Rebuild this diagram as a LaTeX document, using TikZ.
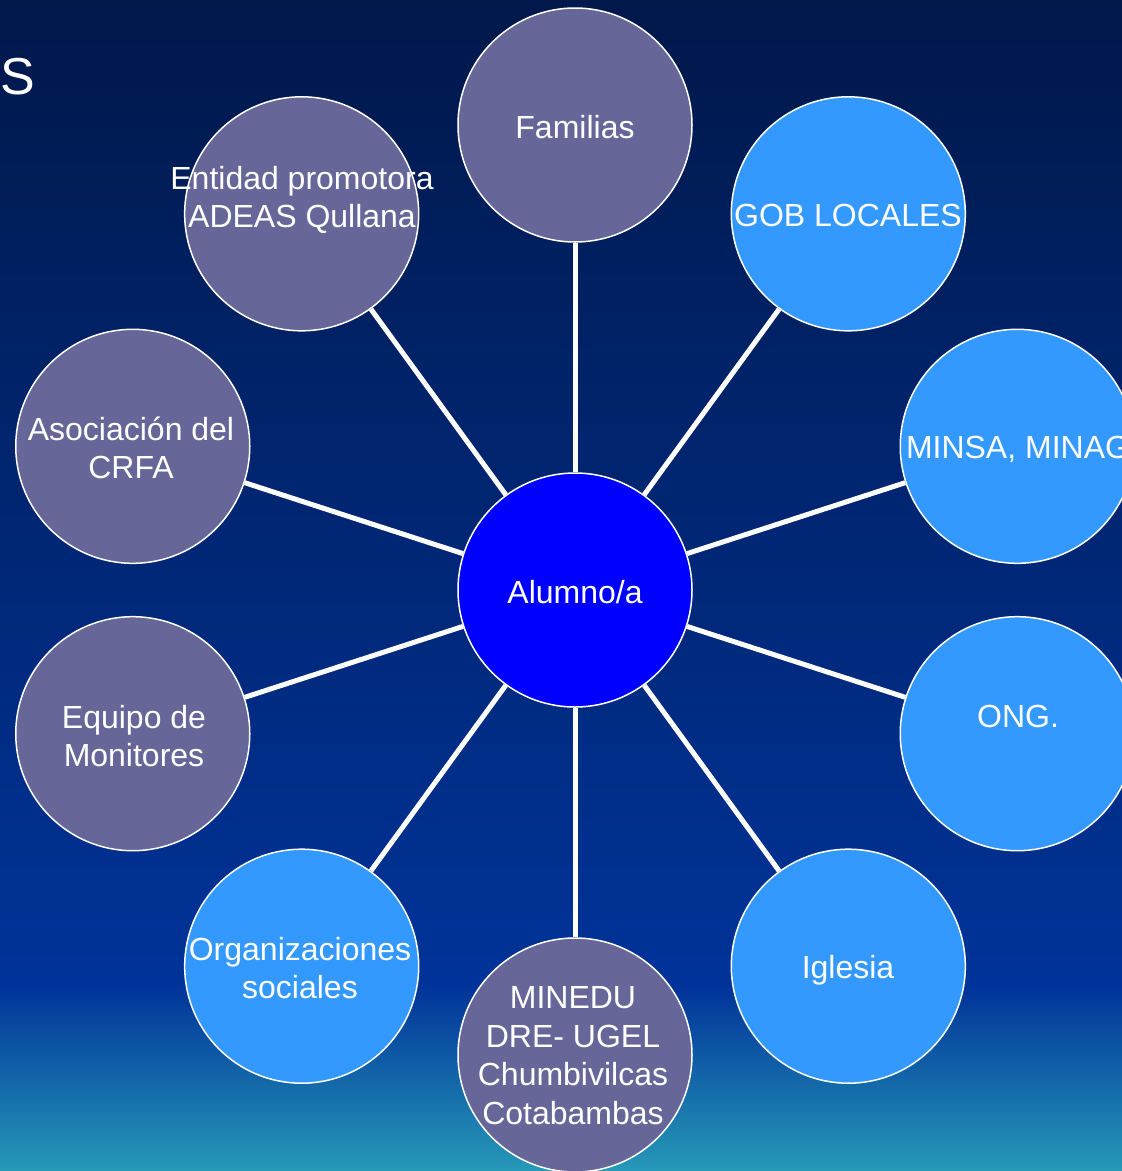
\documentclass[tikz,border=0pt]{standalone}
\usepackage{fontspec}
\setmainfont{Liberation Sans}
\usetikzlibrary{calc}
\definecolor{purp}{HTML}{666699}
\definecolor{lblue}{HTML}{3399FF}
\definecolor{cblue}{HTML}{0000FF}
\definecolor{bgtop}{HTML}{00184A}
\definecolor{bgmid}{HTML}{003399}
\definecolor{bgbot}{HTML}{2699B8}
\pgfdeclareverticalshading{bgshade}{100bp}{color(0bp)=(bgbot); color(25bp)=(bgbot); color(32.9bp)=(bgmid); color(75bp)=(bgtop); color(100bp)=(bgtop)}
\begin{document}
\begin{tikzpicture}[x=1pt,y=1pt,
  bub/.style={circle,draw=white,line width=1.5pt,minimum size=234pt,inner sep=0pt},
  purpbub/.style={bub,fill=purp},
  bluebub/.style={bub,fill=lblue},
  lbl/.style={text=white,font=\fontsize{32}{38.5}\selectfont,align=center,inner sep=0pt},
  link/.style={draw=white,line width=5pt}]
\shade[shading=bgshade] (0,0) rectangle (1122,-1171);
\useasboundingbox (0,0) rectangle (1122,-1171);
\node[anchor=base west,inner sep=0pt,text=white,font=\fontsize{52}{60}\selectfont] (title) at (0,-94) {S};
\coordinate (c) at (575,-590);
\node[bub,fill=cblue] (alumno) at (c) {};
\node[purpbub] (fam) at ($(c)+(90:465pt)$) {};
\node[bluebub] (gob) at ($(c)+(54:465pt)$) {};
\node[bluebub] (minsa) at ($(c)+(18:465pt)$) {};
\node[bluebub] (ong) at ($(c)+(-18:465pt)$) {};
\node[bluebub] (igl) at ($(c)+(-54:465pt)$) {};
\node[purpbub] (minedu) at ($(c)+(-90:465pt)$) {};
\node[bluebub] (org) at ($(c)+(-126:465pt)$) {};
\node[purpbub] (equipo) at ($(c)+(-162:465pt)$) {};
\node[purpbub] (asoc) at ($(c)+(162:465pt)$) {};
\node[purpbub] (ent) at ($(c)+(126:465pt)$) {};
\foreach \n in {fam,gob,minsa,ong,igl,minedu,org,equipo,asoc,ent}
  \draw[link] (alumno) -- (\n);
\node[lbl] (tfam) at (575,-131) {\strut Familias};
\node[lbl] (tent) at (302,-201) {\strut Entidad promotora\\\strut ADEAS Qullana};
\node[lbl] (tgob) at (848,-219) {\strut GOB LOCALES};
\node[lbl] (tminsa) at (1018,-451) {\strut MINSA, MINAG};
\node[lbl] (tasoc) at (131,-452) {\strut Asociación del\\\strut CRFA};
\node[lbl] (talumno) at (575,-596) {\strut Alumno/a};
\node[lbl] (tequipo) at (134,-740) {\strut Equipo de\\\strut Monitores};
\node[lbl] (tong) at (1018,-720) {\strut ONG.};
\node[lbl] (torg) at (300,-972) {\strut Organizaciones\\\strut sociales};
\node[lbl] (tigl) at (848,-971) {\strut Iglesia};
\node[lbl] (tminedu) at (573,-1059) {\strut MINEDU\\\strut DRE- UGEL\\\strut Chumbivilcas\\\strut Cotabambas};
\end{tikzpicture}
\end{document}
